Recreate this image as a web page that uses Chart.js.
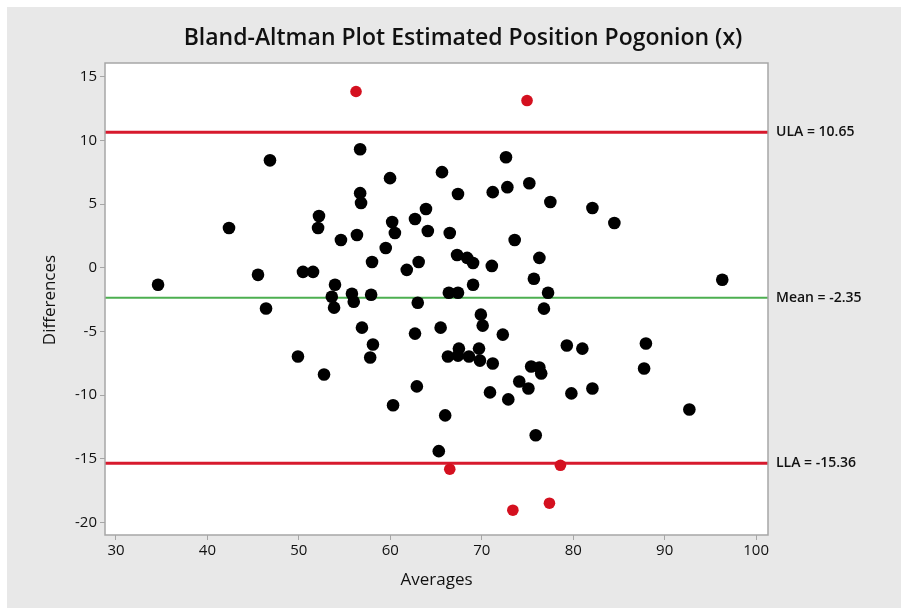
<!DOCTYPE html>
<html>
<head>
<meta charset="utf-8">
<script src="https://cdn.jsdelivr.net/npm/chart.js@4.4.1/dist/chart.umd.min.js"></script>
<style>
  html, body { margin: 0; padding: 0; background: #fff; }
  #wrap { width: 901px; height: 608px; }
</style>
</head>
<body>
<div id="wrap"><canvas id="chart" width="901" height="608"></canvas></div>
<script>
// averages / differences
const blackAvg = [34.6, 42.36, 46.84, 45.53, 46.41, 49.9, 50.45, 51.55, 52.2, 52.1,
  52.75, 53.6, 53.95, 53.85, 54.6, 55.8, 56.0, 56.35, 56.7, 56.7,
  56.8, 56.9, 57.8, 57.9, 58.1, 58.0, 59.5, 59.97, 60.2, 60.5,
  60.3, 61.8, 62.7, 62.7, 63.0, 63.1, 62.9, 63.9, 64.1, 65.5,
  65.65, 65.3, 66.0, 66.5, 66.4, 66.3, 67.4, 67.3, 67.4, 67.4,
  67.5, 68.4, 68.6, 69.05, 69.05, 69.9, 70.1, 69.7, 69.8, 71.1,
  70.9, 71.2, 71.2, 72.65, 72.8, 72.3, 72.9, 73.6, 74.1, 75.2,
  75.1, 75.4, 75.9, 75.7, 76.3, 76.3, 76.5, 76.8, 77.25, 77.5,
  79.3, 79.8, 81.0, 82.1, 82.1, 84.5, 87.95, 87.75, 92.7, 96.3];
const blackDiff = [-1.33, 3.13, 8.45, -0.55, -3.2, -6.97, -0.32, -0.32, 4.07, 3.13,
  -8.38, -2.27, -1.33, -3.13, 2.19, -2.04, -2.66, 2.58, 9.32, 5.87,
  5.09, -4.7, -7.05, -2.12, -6.03, 0.46, 1.56, 7.05, 3.6, 2.74,
  -10.8, -0.16, 3.84, -5.17, -2.74, 0.46, -9.32, 4.62, 2.89, -4.7,
  7.52, -14.41, -11.6, 2.74, -1.96, -6.97, 5.8, 1.01, -1.96, -6.9,
  -6.35, 0.78, -6.97, 0.38, -1.33, -3.68, -4.54, -6.35, -7.29, 0.15,
  -9.79, -7.52, 5.95, 8.69, 6.34, -5.25, -10.34, 2.19, -8.93, 6.65,
  -9.48, -7.76, -13.16, -0.86, 0.78, -7.83, -8.3, -3.21, -1.96, 5.17,
  -6.11, -9.87, -6.35, 4.7, -9.48, 3.52, -5.95, -7.91, -11.13, -0.94];

// points outside the limits of agreement
const redAvg = [56.25, 74.95, 66.5, 78.6, 73.4, 77.4];
const redDiff = [13.86, 13.15, -15.83, -15.52, -19.05, -18.5];

const xTicks = [30, 40, 50, 60, 70, 80, 90, 100];
const yTicks = [-20, -15, -10, -5, 0, 5, 10, 15];

const refValues = [10.65, -2.35, -15.36];
const refLabels = ['ULA = 10.65', 'Mean = -2.35', 'LLA = -15.36'];
const refColors = ['#d7192d', '#4caf50', '#d7192d'];
const refWidths = [3, 2, 3];

const FONT = "'Open Sans', 'Noto Sans', sans-serif";
const TEXT = '#111111';

const toPoints = (xs, ys) => xs.map((x, i) => ({ x, y: ys[i] }));

const decorPlugin = {
    id: 'decor',
    beforeDraw(chart) {
        const { ctx, width, height } = chart;
        ctx.save();
        ctx.fillStyle = '#ffffff';
        ctx.fillRect(0, 0, width, height);
        ctx.fillStyle = '#e8e8e8';
        ctx.fillRect(7, 7, width - 7, height - 7);
        const a = chart.chartArea;
        ctx.fillStyle = '#ffffff';
        ctx.fillRect(a.left, a.top, a.right - a.left, a.bottom - a.top);
        ctx.restore();
    },
    beforeDatasetsDraw(chart) {
        const { ctx, chartArea: a } = chart;
        const ys = chart.scales.y;
        ctx.save();
        refValues.forEach((v, i) => {
            const py = ys.getPixelForValue(v);
            ctx.strokeStyle = refColors[i];
            ctx.lineWidth = refWidths[i];
            ctx.beginPath();
            ctx.moveTo(a.left, py);
            ctx.lineTo(a.right, py);
            ctx.stroke();
        });
        ctx.restore();
    },
    afterDraw(chart) {
        const { ctx, chartArea: a } = chart;
        const ys = chart.scales.y;
        ctx.save();
        // plot frame
        ctx.strokeStyle = '#a6a6a6';
        ctx.lineWidth = 1.5;
        ctx.strokeRect(a.left, a.top, a.right - a.left, a.bottom - a.top);

        // reference line labels at the right
        ctx.fillStyle = TEXT;
        ctx.font = `600 14px ${FONT}`;
        ctx.textAlign = 'left';
        ctx.textBaseline = 'middle';
        refValues.forEach((v, i) => {
            ctx.fillText(refLabels[i], a.right + 8, ys.getPixelForValue(v));
        });

        // title
        ctx.font = `600 23px ${FONT}`;
        ctx.textAlign = 'center';
        ctx.fillText('Bland-Altman Plot Estimated Position Pogonion (x)', 463, 38);

        // axis titles
        ctx.font = `500 17px ${FONT}`;
        ctx.fillText('Averages', (a.left + a.right) / 2, 580);
        ctx.translate(50, 300);
        ctx.rotate(-Math.PI / 2);
        ctx.fillText('Differences', 0, 0);
        ctx.restore();
    }
};

new Chart(document.getElementById('chart'), {
    type: 'scatter',
    data: {
        datasets: [
            {
                data: toPoints(blackAvg, blackDiff),
                backgroundColor: '#000000',
                borderColor: '#000000',
                pointRadius: 6.3,
                borderWidth: 0
            },
            {
                data: toPoints(redAvg, redDiff),
                backgroundColor: '#d4101f',
                borderColor: '#d4101f',
                pointRadius: 5.8,
                borderWidth: 0
            }
        ]
    },
    options: {
        responsive: false,
        animation: false,
        devicePixelRatio: 1,
        layout: { padding: { left: 0, top: 63, right: 133, bottom: 0 } },
        plugins: { legend: { display: false }, tooltip: { enabled: false } },
        scales: {
            x: {
                type: 'linear',
                min: 28.8,
                max: 101.3,
                afterBuildTicks: s => { s.ticks = xTicks.map(v => ({ value: v })); },
                afterFit: s => { s.height = 73; },
                grid: { drawOnChartArea: false, drawTicks: true, tickLength: 5, color: '#a6a6a6' },
                border: { display: false },
                ticks: { color: TEXT, font: { family: FONT, size: 15, weight: 500 }, padding: 2, maxRotation: 0 }
            },
            y: {
                type: 'linear',
                min: -21.0,
                max: 16.1,
                afterBuildTicks: s => { s.ticks = yTicks.map(v => ({ value: v })); },
                afterFit: s => { s.width = 105; },
                grid: { drawOnChartArea: false, drawTicks: true, tickLength: 5, color: '#a6a6a6' },
                border: { display: false },
                ticks: { color: TEXT, font: { family: FONT, size: 15, weight: 500 }, padding: 3 }
            }
        }
    },
    plugins: [decorPlugin]
});
</script>
</body>
</html>
